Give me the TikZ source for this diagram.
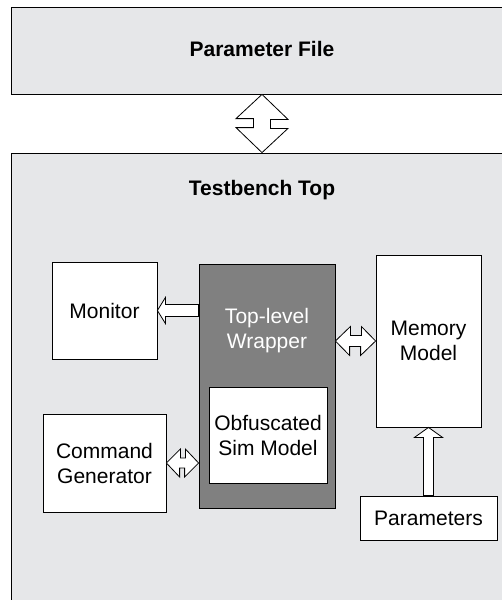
\documentclass[tikz,border=0pt]{standalone}
\usepackage{fontspec}
\setmainfont{Liberation Sans}
\usetikzlibrary{calc}
\definecolor{bggray}{HTML}{E6E7E9}
\definecolor{darkgray}{HTML}{808080}
\tikzset{
  box/.style={draw=black, line width=0.8pt, fill=white, align=center, inner sep=0pt,
    font=\fontsize{21}{25}\selectfont},
  panel/.style={draw=black, line width=0.8pt, fill=bggray, inner sep=0pt},
  title/.style={font=\fontsize{21}{25}\selectfont\bfseries, inner sep=0pt},
  fat/.style={draw=black, line width=0.8pt, fill=white, line join=miter},
}
\begin{document}
\begin{tikzpicture}[x=1pt, y=-1pt]
\useasboundingbox (0,0) rectangle (502,600);
\clip (0,0) rectangle (502,600);
\fill[white] (0,0) rectangle (502,600);
% panels
\node[panel, minimum width=502pt, minimum height=87pt] (pf) at (262,50.5) {};
\node[title] (pfl) at (262,49) {Parameter File};
\node[panel, minimum width=502pt, minimum height=467pt] (tb) at (262,386.5) {};
\node[title] (tbl) at (262,190) {Testbench Top};
% blocks
\node[box, minimum width=105pt, minimum height=97pt] (mon) at (104.5,310.5) {Monitor};
\node[box, fill=darkgray, minimum width=136pt, minimum height=244pt] (wr) at (267,386) {};
\node[font=\fontsize{21}{25}\selectfont, text=white, align=center, inner sep=0pt] (wrl) at (267,330.5) {Top-level\\Wrapper};
\node[box, minimum width=118pt, minimum height=96pt] (obf) at (268,435) {Obfuscated\\Sim Model};
\node[box, minimum width=105pt, minimum height=172pt] (mem) at (428.5,341) {Memory\\Model};
\node[box, minimum width=123pt, minimum height=98pt] (cmd) at (104.5,463) {Command\\Generator};
\node[box, minimum width=137pt, minimum height=44pt] (par) at (428.5,518) {Parameters};
% connectors
\draw[fat] (pf.south) -- ++(26,25) -- ++(-17.5,0) -- ++(0,9) -- ++(17.5,0) -- (tb.north)
  -- ++(-26,-25) -- ++(17.5,0) -- ++(0,-9) -- ++(-17.5,0) -- cycle;
\draw[fat] (mon.east) -- ++(8,-13) -- ++(0,7) -- ($(mon.east -| wr.west)+(0,-6)$)
  -- ++(0,12) -- ($(mon.east)+(8,6)$) -- ++(0,7) -- cycle;
\draw[fat] (mem.west -| wr.east) -- ++(15,-14.5) -- ++(0,9) -- ++(11,0) -- ++(0,-9) -- (mem.west)
  -- ++(-15,14.5) -- ++(0,-9) -- ++(-11,0) -- ++(0,9) -- cycle;
\draw[fat] (cmd.east) -- ++(14,-14) -- ++(0,9) -- ++(5,0) -- ++(0,-9) -- (cmd.east -| wr.west)
  -- ++(-14,14) -- ++(0,-9) -- ++(-5,0) -- ++(0,9) -- cycle;
\draw[fat] (par.north |- mem.south) -- ++(14,10) -- ++(-9,0) -- ($(par.north)+(5,0)$)
  -- ++(-10,0) -- ($(par.north |- mem.south)+(-5,10)$) -- ++(-9,0) -- cycle;
\end{tikzpicture}
\end{document}
